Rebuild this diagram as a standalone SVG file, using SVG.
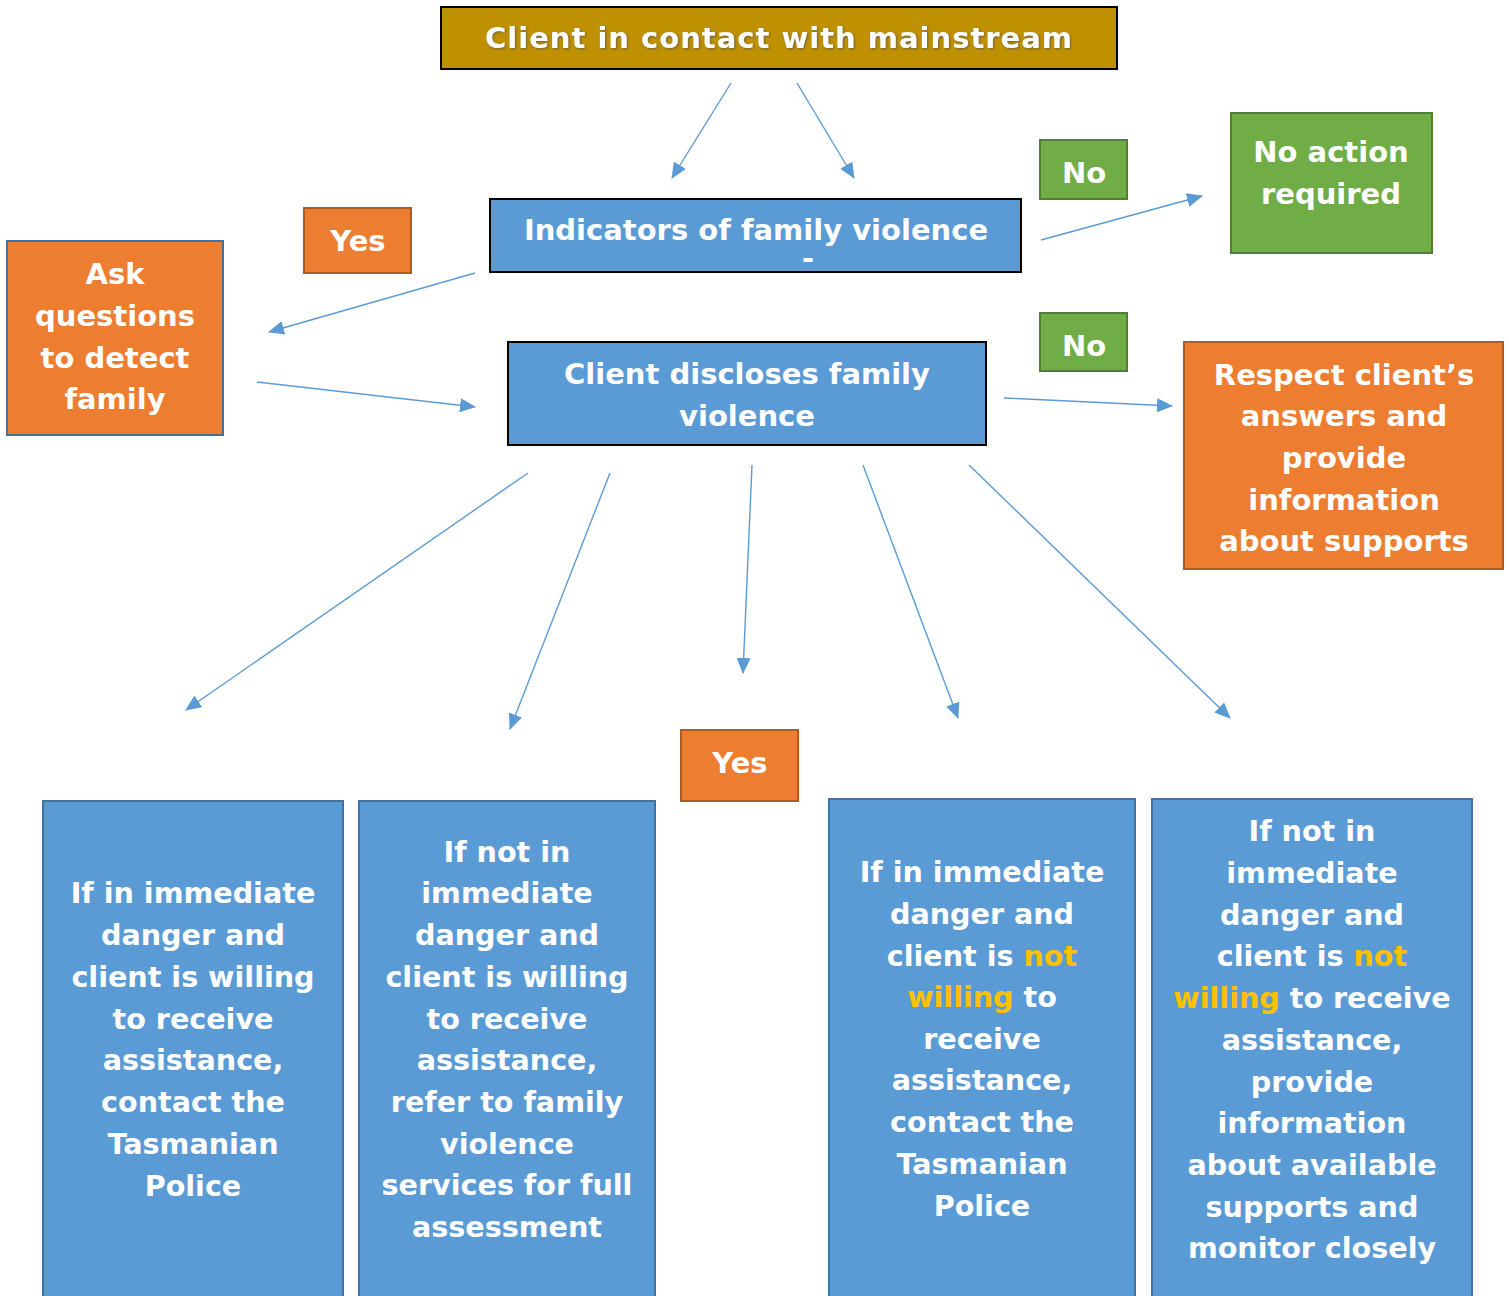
<svg xmlns="http://www.w3.org/2000/svg" width="1509" height="1296" viewBox="0 0 1509 1296">
<defs>
<marker id="ah" viewBox="0 0 16 14" refX="15" refY="7" markerWidth="16" markerHeight="14" markerUnits="userSpaceOnUse" orient="auto">
<path d="M0,0 L16,7 L0,14 Z" fill="#5B9BD5"/>
</marker>
<filter id="sh" x="-5%" y="-20%" width="110%" height="140%">
<feDropShadow dx="1" dy="1" stdDeviation="0.8" flood-color="#555" flood-opacity="0.8"/>
</filter>
</defs>
<style>
text{font-family:"DejaVu Sans","Verdana",sans-serif;font-weight:bold;fill:#fff;text-anchor:middle;font-size:29px}
.blue{fill:#5B9BD5;stroke:#41719C;stroke-width:2}
.blueK{fill:#5B9BD5;stroke:#000;stroke-width:2}
.orange{fill:#ED7D31;stroke:#AE5A21;stroke-width:2}
.green{fill:#70AD47;stroke:#507E32;stroke-width:2}
.hl{fill:#FFC000}
.cn line{stroke:#5B9BD5;stroke-width:1.4;marker-end:url(#ah)}
.b text{font-size:28.6px}
</style>

<g id="start">
<rect x="441" y="7" width="676" height="62" fill="#BF9000" stroke="#000" stroke-width="2"/>
<text x="779" y="48" font-size="29" letter-spacing="1" filter="url(#sh)">Client in contact with mainstream</text>
</g>

<g id="indicators">
<rect x="490" y="199" width="531" height="73" class="blueK"/>
<text x="756" y="240" font-size="28.6">Indicators of family violence</text>
<text x="808" y="268" font-size="10">-</text>
</g>

<g id="yes1">
<rect x="304" y="208" width="107" height="65" class="orange"/>
<text x="358" y="251">Yes</text>
</g>

<g id="ask">
<rect x="7" y="241" width="216" height="194" fill="#ED7D31" stroke="#41719C" stroke-width="2"/>
<text x="115" y="284">Ask</text>
<text x="115" y="326">questions</text>
<text x="115" y="368">to detect</text>
<text x="115" y="409">family</text>
</g>

<g id="discloses">
<rect x="508" y="342" width="478" height="103" class="blueK"/>
<text x="747" y="384">Client discloses family</text>
<text x="747" y="426">violence</text>
</g>

<g id="no1">
<rect x="1040" y="140" width="87" height="59" class="green"/>
<text x="1084" y="183">No</text>
</g>

<g id="noaction">
<rect x="1231" y="113" width="201" height="140" class="green"/>
<text x="1331" y="162">No action</text>
<text x="1331" y="204">required</text>
</g>

<g id="no2">
<rect x="1040" y="313" width="87" height="58" class="green"/>
<text x="1084" y="356">No</text>
</g>

<g id="respect">
<rect x="1184" y="342" width="319" height="227" class="orange"/>
<text x="1344" y="385">Respect client’s</text>
<text x="1344" y="426">answers and</text>
<text x="1344" y="468">provide</text>
<text x="1344" y="510">information</text>
<text x="1344" y="551">about supports</text>
</g>

<g id="yes2">
<rect x="681" y="730" width="117" height="71" class="orange"/>
<text x="740" y="773">Yes</text>
</g>

<g id="danger-willing" class="b">
<rect x="43" y="801" width="300" height="510" class="blue"/>
<text x="193" y="903">If in immediate</text>
<text x="193" y="945">danger and</text>
<text x="193" y="987">client is willing</text>
<text x="193" y="1029">to receive</text>
<text x="193" y="1070">assistance,</text>
<text x="193" y="1112">contact the</text>
<text x="193" y="1154">Tasmanian</text>
<text x="193" y="1196">Police</text>
</g>

<g id="nodanger-willing" class="b">
<rect x="359" y="801" width="296" height="510" class="blue"/>
<text x="507" y="862">If not in</text>
<text x="507" y="903">immediate</text>
<text x="507" y="945">danger and</text>
<text x="507" y="987">client is willing</text>
<text x="507" y="1029">to receive</text>
<text x="507" y="1070">assistance,</text>
<text x="507" y="1112">refer to family</text>
<text x="507" y="1154">violence</text>
<text x="507" y="1195">services for full</text>
<text x="507" y="1237">assessment</text>
</g>

<g id="danger-notwilling" class="b">
<rect x="829" y="799" width="306" height="512" class="blue"/>
<text x="982" y="882">If in immediate</text>
<text x="982" y="924">danger and</text>
<text x="982" y="966">client is <tspan class="hl">not</tspan></text>
<text x="982" y="1007"><tspan class="hl">willing</tspan> to</text>
<text x="982" y="1049">receive</text>
<text x="982" y="1090">assistance,</text>
<text x="982" y="1132">contact the</text>
<text x="982" y="1174">Tasmanian</text>
<text x="982" y="1216">Police</text>
</g>

<g id="nodanger-notwilling" class="b">
<rect x="1152" y="799" width="320" height="512" class="blue"/>
<text x="1312" y="841">If not in</text>
<text x="1312" y="883">immediate</text>
<text x="1312" y="925">danger and</text>
<text x="1312" y="966">client is <tspan class="hl">not</tspan></text>
<text x="1312" y="1008"><tspan class="hl">willing</tspan> to receive</text>
<text x="1312" y="1050">assistance,</text>
<text x="1312" y="1092">provide</text>
<text x="1312" y="1133">information</text>
<text x="1312" y="1175">about available</text>
<text x="1312" y="1217">supports and</text>
<text x="1312" y="1258">monitor closely</text>
</g>

<g id="connectors" class="cn">
<line x1="731" y1="83" x2="672" y2="178"/>
<line x1="797" y1="83" x2="854" y2="178"/>
<line x1="475" y1="273" x2="269" y2="332"/>
<line x1="257" y1="382" x2="475" y2="407"/>
<line x1="1041" y1="240" x2="1202" y2="196"/>
<line x1="1004" y1="398" x2="1172" y2="406"/>
<line x1="528" y1="473" x2="186" y2="710"/>
<line x1="610" y1="473" x2="510" y2="729"/>
<line x1="752" y1="465" x2="743" y2="673"/>
<line x1="863" y1="465" x2="958" y2="718"/>
<line x1="969" y1="465" x2="1230" y2="718"/>
</g>
</svg>
